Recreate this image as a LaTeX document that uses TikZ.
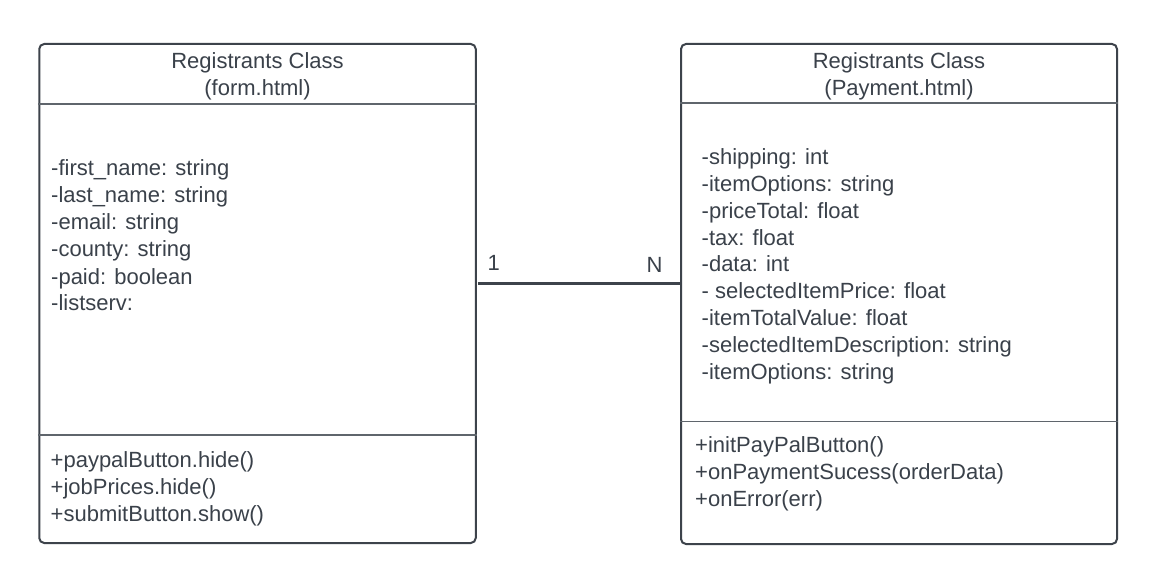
\documentclass[tikz,border=0pt]{standalone}
\usepackage{fontspec}
\setmainfont{Liberation Sans}
\definecolor{ink}{HTML}{3A414A}
\definecolor{frame}{HTML}{3D434B}
\definecolor{rule}{HTML}{5F656C}
\begin{document}
\begin{tikzpicture}[x=1pt,y=-1pt,
  every node/.style={text=ink,font=\fontsize{22}{27}\selectfont},
  classbox/.style={draw=frame,line width=2pt,rounded corners=5pt,fill=white,inner sep=0pt},
  divider/.style={draw=rule,line width=1.6pt},
  link/.style={draw=frame,line width=2.3pt},
  txt/.style={anchor=base west,inner sep=0pt},
  head/.style={anchor=base,inner sep=0pt}]
\useasboundingbox[fill=white] (0,0) rectangle (1159,585);

% class boxes
\node[classbox,minimum width=436.5pt,minimum height=499pt] (form) at (257.5,293.5) {};
\node[classbox,minimum width=436pt,minimum height=500pt] (pay) at (899,294) {};

% compartment rules
\draw[divider] (form.west |- 0,104) -- (form.east |- 0,104);
\draw[divider] (form.west |- 0,435) -- (form.east |- 0,435);
\draw[divider] (pay.west |- 0,103) -- (pay.east |- 0,103);
\draw[divider] (pay.west |- 0,421.5) -- (pay.east |- 0,421.5);

% class names
\node[head] (formname) at (257.5,68.5) {Registrants Class};
\node[head] (formfile) at (257.5,95.5) {(form.html)};
\node[head] (payname) at (899,68.5) {Registrants Class};
\node[head] (payfile) at (899,95.5) {(Payment.html)};

% attributes of form.html
\foreach [count=\i] \t in {-first\_name: string,-last\_name: string,-email: string,-county: string,-paid: boolean,-listserv:}
  \node[txt] (fattr\i) at (51,{176+27*(\i-1)}) {\t};

% methods of form.html
\foreach [count=\i] \t in {+paypalButton.hide(),+jobPrices.hide(),+submitButton.show()}
  \node[txt] (fmeth\i) at (50.5,{467+27*(\i-1)}) {\t};

% attributes of Payment.html
\foreach [count=\i] \t in {-shipping: int,-itemOptions: string,-priceTotal: float,-tax: float,-data: int,- selectedItemPrice: float,-itemTotalValue: float,-selectedItemDescription: string,-itemOptions: string}
  \node[txt] (pattr\i) at (701.5,{165+26.75*(\i-1)}) {\t};

% methods of Payment.html
\foreach [count=\i] \t in {+initPayPalButton(),+onPaymentSucess(orderData),+onError(err)}
  \node[txt] (pmeth\i) at (695,{452.5+27*(\i-1)}) {\t};

% association with multiplicities
\draw[link,shorten <=1pt] (form.east |- 0,283.5) -- (pay.west |- 0,283.5);
\node[txt] (multone) at (487.5,271) {1};
\node[txt] (multmany) at (646.5,273) {N};
\end{tikzpicture}
\end{document}
